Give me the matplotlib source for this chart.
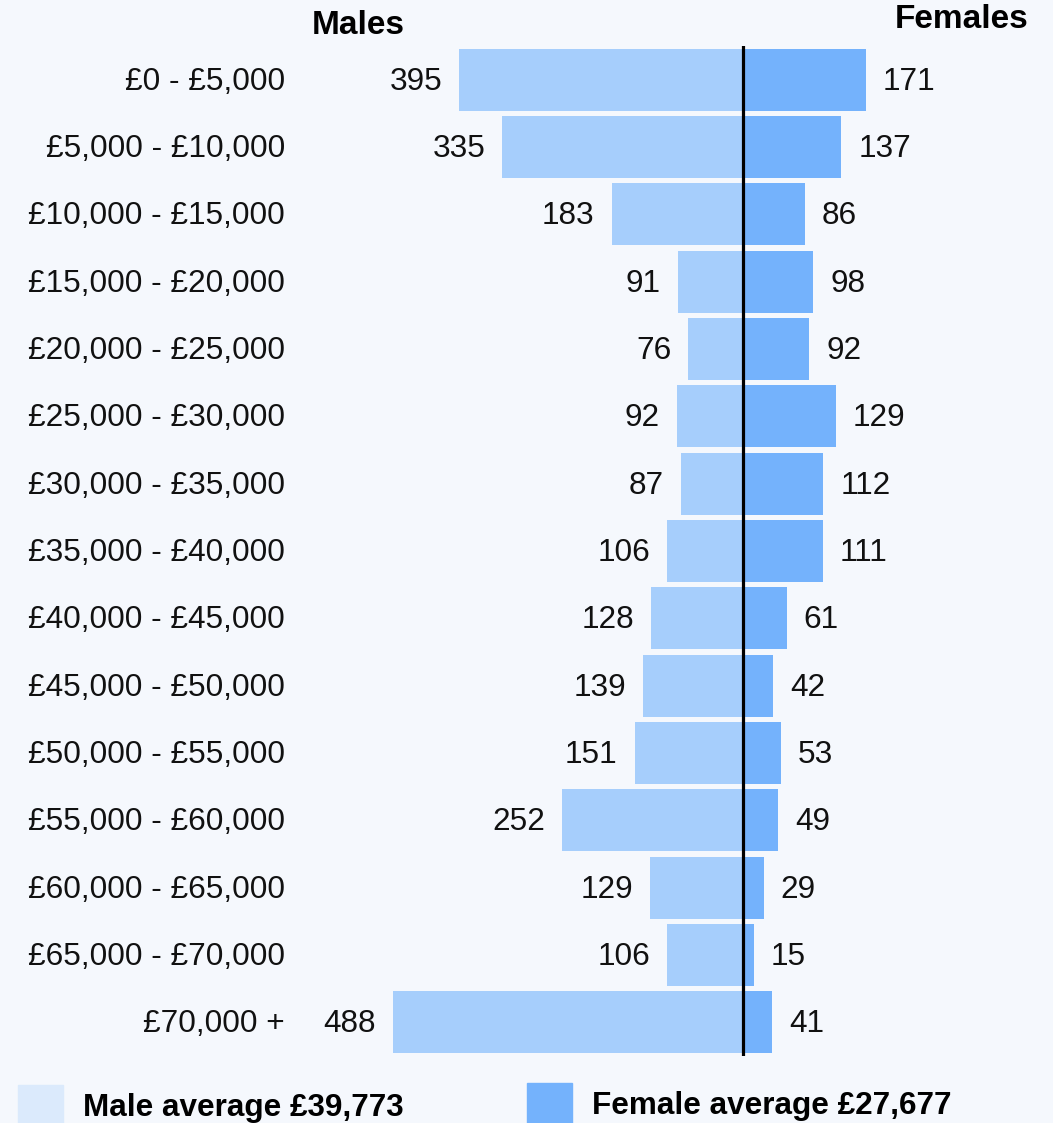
import matplotlib.pyplot as plt
from matplotlib.transforms import blended_transform_factory

# income bands and counts
bands = ['£0 - £5,000', '£5,000 - £10,000', '£10,000 - £15,000', '£15,000 - £20,000',
         '£20,000 - £25,000', '£25,000 - £30,000', '£30,000 - £35,000', '£35,000 - £40,000',
         '£40,000 - £45,000', '£45,000 - £50,000', '£50,000 - £55,000', '£55,000 - £60,000',
         '£60,000 - £65,000', '£65,000 - £70,000', '£70,000 +']
males = [395, 335, 183, 91, 76, 92, 87, 106, 128, 139, 151, 252, 129, 106, 488]
females = [171, 137, 86, 98, 92, 129, 112, 111, 61, 42, 53, 49, 29, 15, 41]
male_avg = 'Male average £39,773'
female_avg = 'Female average £27,677'

bg = '#f5f8fd'
male_col = '#a6cefc'
female_col = '#74b2fc'
legend_male_col = '#dbeafc'

plt.rcParams['font.family'] = ['Liberation Sans', 'DejaVu Sans']

W, H = 1053, 1123
fig = plt.figure(figsize=(W / 100, H / 100), dpi=100, facecolor=bg)

# axes placed in pixel terms: center line at x=743, 0.718 px per unit
ax = fig.add_axes([300 / W, 1 - 1056 / H, 753 / W, 1010 / H])
ax.set_facecolor('none')
scale = 0.718
ax.set_xlim((300 - 743) / scale, (1053 - 743) / scale)
ax.set_ylim(len(bands) - 0.5, -0.5)
ax.axis('off')

y = list(range(len(bands)))
ax.barh(y, [-m for m in males], height=0.92, color=male_col)
ax.barh(y, females, height=0.92, color=female_col)
ax.axvline(0, color='black', lw=2.3)

for i, (m, f) in enumerate(zip(males, females)):
    ax.annotate(str(m), (-m, i), xytext=(-17, -2), textcoords='offset pixels',
                ha='right', va='center', fontsize=22.7, color='#111111')
    ax.annotate(str(f), (f, i), xytext=(17, -2), textcoords='offset pixels',
                ha='left', va='center', fontsize=22.7, color='#111111')

# band labels: x in figure coords, y in data coords
trans = blended_transform_factory(fig.transFigure, ax.transData)
for i, b in enumerate(bands):
    ax.annotate(b, (285 / W, i), xycoords=trans, xytext=(0, -2), textcoords='offset pixels',
                ha='right', va='center', fontsize=22.8, color='#111111')

fig.text(358 / W, 1 - 25 / H, 'Males', ha='center', va='center',
         fontsize=24, fontweight='bold')
fig.text(962 / W, 1 - 20 / H, 'Females', ha='center', va='center',
         fontsize=24, fontweight='bold')

# legend squares and text
fig.patches.append(plt.Rectangle((18 / W, 0), 45 / W, 38 / H, transform=fig.transFigure,
                                 color=legend_male_col, figure=fig))
fig.patches.append(plt.Rectangle((527 / W, 0), 45 / W, 40 / H, transform=fig.transFigure,
                                 color=female_col, figure=fig))
fig.text(83 / W, 1 - 1108 / H, male_avg, ha='left', va='center',
         fontsize=22.7, fontweight='bold')
fig.text(592 / W, 1 - 1106 / H, female_avg, ha='left', va='center',
         fontsize=22.7, fontweight='bold')

fig.savefig('out.png', dpi=100, facecolor=bg)
